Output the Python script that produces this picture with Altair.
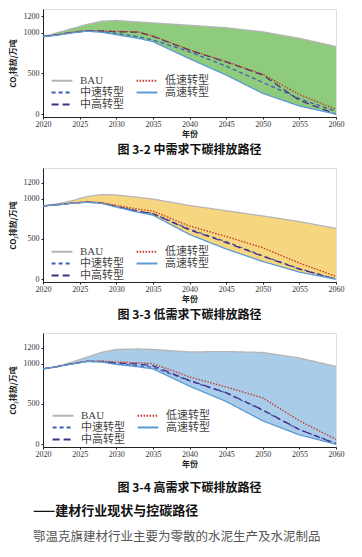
import altair as alt
import pandas as pd

years = [2020, 2022, 2024, 2026, 2028, 2030, 2033, 2035, 2040, 2045, 2050, 2055, 2060]
series = ["BAU", "中速转型", "中高转型", "低速转型", "高速转型"]
colors = ["#b5b5b5", "#3d5fb5", "#4a2b8a", "#c0392b", "#5b9bd5"]
dashes = [[1, 0], [4, 3], [7, 4], [1.5, 1.5], [1, 0]]
x_ticks = [2020, 2025, 2030, 2035, 2040, 2045, 2050, 2055, 2060]
y_ticks = [0, 500, 1000, 1200]

# 图 3-2 中需求
mid_bau = [950, 1000, 1050, 1100, 1140, 1150, 1130, 1120, 1090, 1060, 1010, 930, 830]
mid_low = [950, 975, 1005, 1025, 1020, 1015, 1010, 960, 790, 645, 490, 240, 60]
mid_mid = [950, 972, 1000, 1020, 1010, 990, 950, 910, 765, 590, 390, 190, 35]
mid_high = [950, 970, 998, 1018, 1005, 975, 930, 890, 680, 480, 255, 100, 0]
mid_midhigh = [950, 975, 1005, 1025, 1020, 1012, 1005, 955, 785, 640, 480, 170, 0]

# 图 3-3 低需求
low_bau = [910, 935, 975, 1025, 1050, 1045, 1015, 995, 915, 850, 785, 715, 630]
low_low = [910, 925, 945, 960, 950, 915, 870, 845, 660, 530, 390, 200, 35]
low_mid = [910, 925, 945, 958, 945, 905, 845, 815, 620, 465, 290, 130, 0]
low_high = [910, 923, 942, 955, 940, 895, 830, 795, 555, 375, 220, 88, 0]
low_midhigh = [910, 925, 945, 958, 944, 903, 842, 812, 612, 455, 285, 125, 0]

# 图 3-4 高需求
high_bau = [935, 965, 1020, 1080, 1140, 1175, 1182, 1175, 1145, 1150, 1138, 1070, 965]
high_low = [935, 965, 1000, 1030, 1032, 1020, 1010, 1000, 835, 710, 575, 290, 60]
high_mid = [935, 963, 998, 1028, 1025, 1000, 975, 955, 785, 635, 420, 180, 10]
high_high = [935, 962, 996, 1025, 1020, 990, 960, 935, 720, 530, 290, 115, 0]
high_midhigh = [935, 964, 999, 1029, 1027, 1008, 995, 975, 790, 640, 425, 182, 5]

captions = ["图 3-2 中需求下碳排放路径", "图 3-3 低需求下碳排放路径", "图 3-4 高需求下碳排放路径"]
fills = ["#8fcb7c", "#f6d67e", "#a9cce9"]
heading = "——建材行业现状与控碳路径"
body = "鄂温克旗建材行业主要为零散的水泥生产及水泥制品"

SERIF = "Liberation Serif, Noto Sans CJK SC"
CJK = "Noto Sans CJK SC"


def make_chart(bau, mid, midhigh, low, high, fill, caption, ymax, height, legend_x, legend_y, cap_offset):
    long_rows = []
    for name, vals in zip(series, [bau, mid, midhigh, low, high]):
        for yr, v in zip(years, vals):
            long_rows.append({"year": yr, "value": v, "series": name})
    long_df = pd.DataFrame(long_rows)
    wide_df = pd.DataFrame({"year": years, "bau": bau, "high": high})

    xenc = alt.X(
        "year:Q",
        scale=alt.Scale(domain=[2020, 2060], nice=False, zero=False),
        axis=alt.Axis(
            values=x_ticks, format="d", title="年份", labelFont=SERIF, labelFontSize=8,
            labelColor="#333", titleFont=CJK, titleFontSize=8, titleFontWeight="bold",
            titleColor="#222", titlePadding=2, tickSize=2, labelPadding=1,
            domainColor="#222", tickColor="#222", grid=False, labelFlush=False,
        ),
    )
    yscale = alt.Scale(domain=[-35, ymax], nice=False, zero=False)
    yaxis = alt.Axis(
        values=y_ticks, format="d", title="CO₂排放/万吨", labelFont=SERIF, labelFontSize=8,
        labelColor="#333", titleFont=CJK, titleFontSize=8, titleFontWeight="bold",
        titleColor="#222", titlePadding=6, tickSize=2, labelPadding=2,
        domainColor="#222", tickColor="#222", grid=False,
    )

    area = alt.Chart(wide_df).mark_area(color=fill, opacity=1).encode(
        x=xenc,
        y=alt.Y("bau:Q", scale=yscale, axis=yaxis),
        y2="high:Q",
    )

    leg = alt.Legend(
        orient="none", legendX=legend_x, legendY=legend_y, columns=2, title=None,
        symbolType="M-2.6,0H2.6", symbolSize=64, symbolStrokeWidth=2,
        labelFont=SERIF, labelFontSize=11, labelColor="#444",
        columnPadding=8, rowPadding=0, labelOffset=12.5, labelLimit=200,
    )
    lines = alt.Chart(long_df).mark_line(strokeWidth=1.3).encode(
        x=xenc,
        y=alt.Y("value:Q", scale=yscale, axis=yaxis),
        color=alt.Color("series:N", scale=alt.Scale(domain=series, range=colors), legend=leg),
        strokeDash=alt.StrokeDash("series:N", scale=alt.Scale(domain=series, range=dashes), legend=leg),
        order=alt.Order("year:Q"),
    )
    return alt.layer(area, lines).properties(
        width=293, height=height,
        title=alt.TitleParams(
            caption, orient="bottom", anchor="middle", font=CJK, fontSize=12,
            fontWeight="bold", color="#111", offset=cap_offset,
        ),
    )


c1 = make_chart(mid_bau, mid_mid, mid_midhigh, mid_low, mid_high, fills[0], captions[0], 1290, 108, 13.5, 66, 7)
c2 = make_chart(low_bau, low_mid, low_midhigh, low_low, low_high, fills[1], captions[1], 1380, 114, 13.5, 78, 7)
c3 = make_chart(high_bau, high_mid, high_midhigh, high_low, high_high, fills[2], captions[2], 1380, 114, 14.5, 77, 15)

c4 = alt.Chart(pd.DataFrame({"t": [""]})).mark_text().encode(text="t:N").properties(
    width=293, height=1,
    title=alt.TitleParams(
        heading, subtitle=body, anchor="start", font=CJK, fontSize=13, fontWeight="bold",
        color="#111", subtitleFont=CJK, subtitleFontSize=12.5, subtitleColor="#555",
        subtitlePadding=13, dx=-10,
    ),
)

chart = alt.vconcat(c1, c2, c3, c4, spacing=10).resolve_scale(
    color="independent", strokeDash="independent", y="independent"
).resolve_legend(color="independent", strokeDash="independent").configure_view(
    stroke=None
).configure(padding=0, background="white")

chart.save("out.html", embed_options={"renderer": "svg", "actions": False})
